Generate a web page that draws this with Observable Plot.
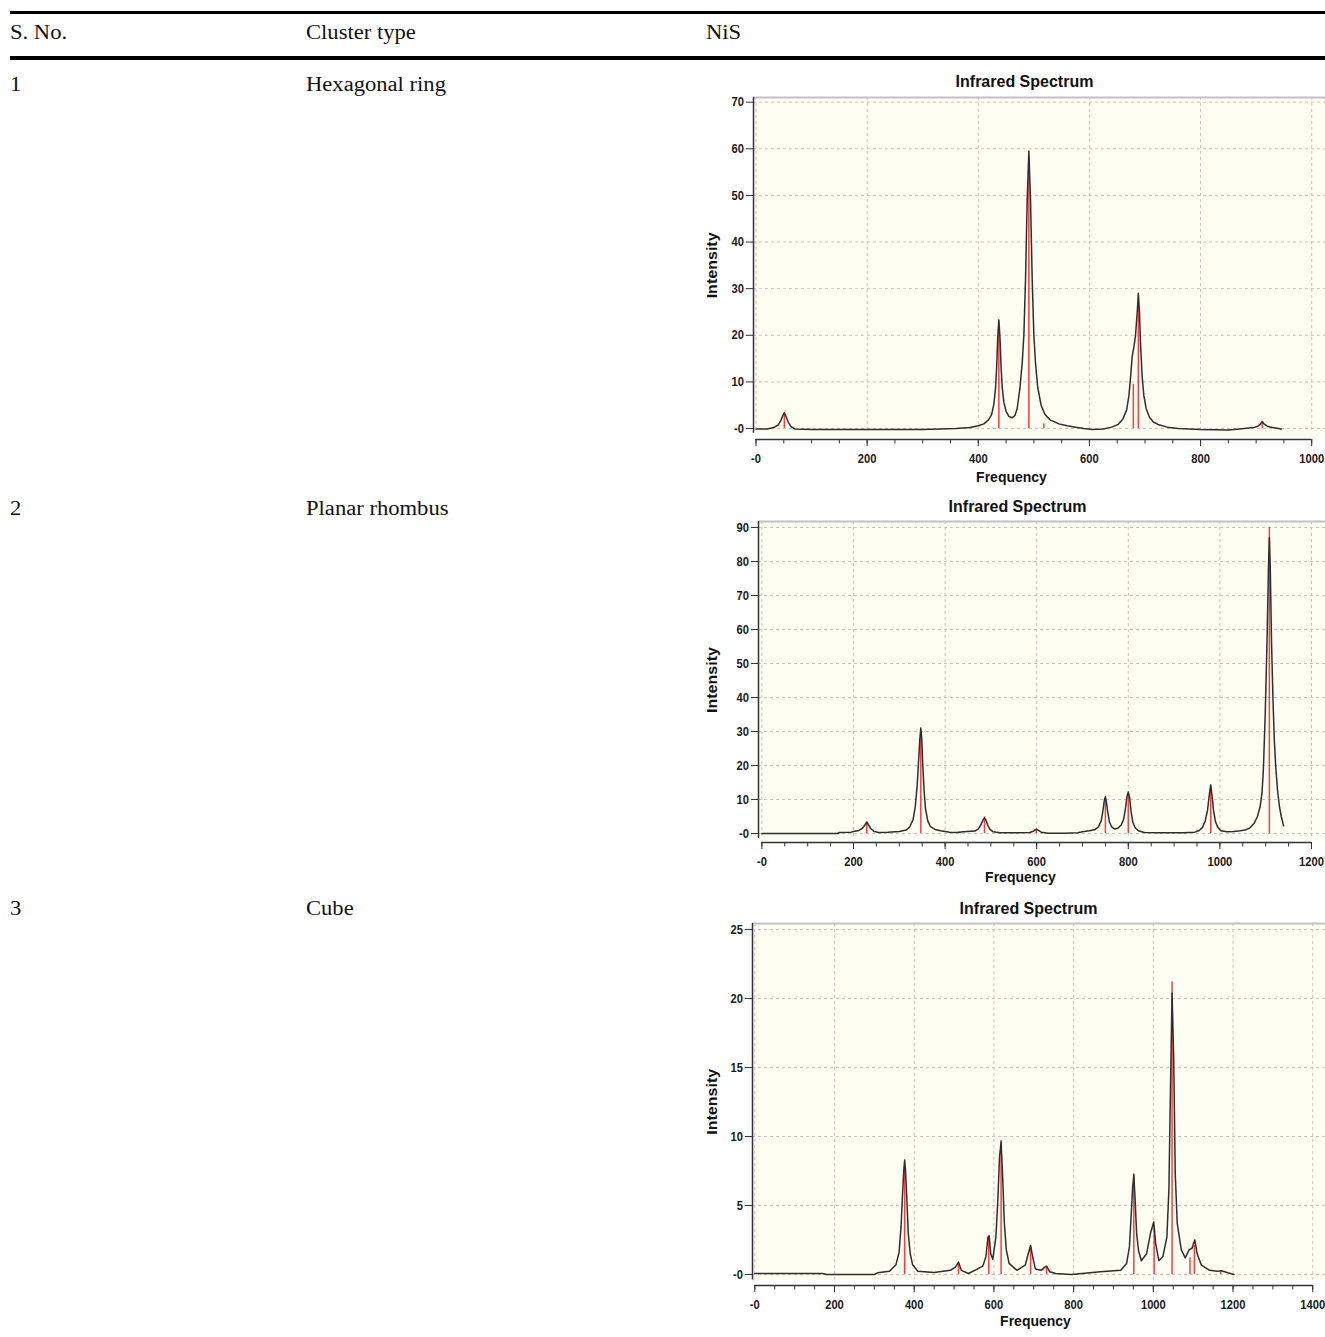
<!DOCTYPE html>
<html>
<head>
<meta charset="utf-8">
<script src="https://cdn.jsdelivr.net/npm/d3@7"></script>
<script src="https://cdn.jsdelivr.net/npm/@observablehq/plot@0.6"></script>
<style>
  html, body { margin: 0; padding: 0; background: #fff; }
  body { width: 1325px; height: 1337px; position: relative; overflow: hidden;
         font-family: "Liberation Serif", "Times New Roman", serif; }
  .rule { position: absolute; left: 10px; width: 1315px; background: #000; }
  .cell { position: absolute; font-size: 20px; line-height: 20px; white-space: nowrap;
          transform-origin: 0 50%; transform: scaleX(1.13); color: #111; }
  .chart { position: absolute; left: 695px; }
  .chart svg { overflow: visible; }
</style>
</head>
<body>
<script>
// ---------- table text ----------
const headers = ["S. No.", "Cluster type", "NiS"];
const serials = ["1", "2", "3"];
const clusterTypes = ["Hexagonal ring", "Planar rhombus", "Cube"];

// ---------- chart 1 : Hexagonal ring ----------
const hexSticks = [[51, 3.2], [437, 21], [491, 56], [518, 1], [679, 9.5], [688, 27], [911, 1.2]];
const hexCurve = [[0,-0.1],[20,-0.1],[32,0.2],[40,0.8],[45,1.8],[49,3],[51,3.4],[54,2.6],[58,1.4],[63,0.4],[70,-0.1],
  [100,-0.2],[200,-0.2],[300,-0.2],[360,0],[385,0.2],[400,0.6],[410,1],[418,1.8],[424,3],[428,5.2],[431,8.6],[433,13],
  [435,19.5],[437,23.3],[439,19.5],[441,13.2],[443,9],[446,5.6],[450,3.7],[455,2.6],[461,2.3],[466,2.8],[470,4.3],
  [475,8.7],[479,14],[482,20],[485,32],[488,49],[491,59.5],[494,49],[497,32],[500,20],[503,14],[507,8.8],[513,5],
  [520,3],[530,1.8],[545,1],[560,0.6],[575,0.3],[590,0],[605,-0.2],[625,-0.1],[640,0.3],[652,0.9],[660,2],[667,4],
  [671,7],[674,11],[677,15.5],[680,17.5],[683,20],[686,25],[688,29],[690,25],[692,18],[695,11],[698,7],[702,4.3],
  [708,2.4],[715,1.4],[725,0.8],[740,0.3],[760,0],[800,-0.2],[850,-0.3],[870,-0.1],[895,0.2],[903,0.5],[908,1],
  [911,1.5],[914,1],[920,0.5],[930,0.2],[945,-0.1]];
const hexXTicks = [0, 200, 400, 600, 800, 1000];
const hexYTicks = [0, 10, 20, 30, 40, 50, 60, 70];

// ---------- chart 2 : Planar rhombus ----------
const rhoSticks = [[229, 2.9], [347, 28.5], [486, 4.9], [599, 1], [750, 10], [800, 11.5], [980, 13.5], [1108, 90]];
const rhoCurve = [[0,0],[100,0],[165,0],[170,0.3],[195,0.4],[200,0.6],[212,0.9],[220,1.6],[225,2.5],[229,3.4],[233,2.5],
  [238,1.4],[245,0.6],[255,0.3],[275,0.4],[300,0.6],[315,1],[323,2],[330,4],[335,8],[339,14],[342,21],[345,28],[347,31],
  [349,28],[351,21],[354,13],[357,7.5],[362,3.8],[368,2],[378,1.2],[390,0.8],[410,0.4],[425,0.3],[440,0.5],[465,0.7],
  [472,1.3],[478,2.5],[483,4],[486,4.6],[489,4],[493,2.5],[498,1.2],[505,0.5],[520,0.2],[560,0.2],[585,0.3],[593,0.7],
  [599,1.3],[604,0.9],[610,0.4],[625,0.1],[660,0.1],[690,0.2],[700,0.5],[715,0.8],[728,1.2],[735,2],[741,3.8],[745,7],
  [748,10],[750,10.8],[752,9.5],[755,6.5],[759,3.3],[764,1.9],[771,1.3],[778,1.6],[785,2.6],[790,4.2],[794,7.5],[797,10.8],
  [800,12.2],[803,10.5],[806,6.5],[810,3.3],[815,1.7],[822,0.8],[835,0.3],[870,0.2],[920,0.2],[945,0.4],[955,0.9],[962,1.8],
  [968,3.7],[973,6.8],[977,11.5],[980,14.3],[983,11],[986,7],[990,3.7],[995,1.9],[1002,0.8],[1015,0.5],[1030,0.6],
  [1040,0.7],[1055,1],[1065,1.6],[1075,3],[1082,5],[1088,8],[1092,12],[1095,19],[1099,35],[1103,57],[1106,78],
  [1108,87],[1110,78],[1113,55],[1116,39],[1119,27],[1122,19.5],[1126,12.5],[1130,8],[1134,5],[1139,2.3]];
const rhoXTicks = [0, 200, 400, 600, 800, 1000, 1200];
const rhoYTicks = [0, 10, 20, 30, 40, 50, 60, 70, 80, 90];

// ---------- chart 3 : Cube ----------
const cubeSticks = [[376, 7.8], [511, 0.8], [587, 2.6], [618, 9.7], [692, 2], [732, 0.6], [951, 7.3], [1002, 3.5],
  [1047, 21.2], [1092, 1.2], [1103, 2.1], [1169, 0.2]];
const cubeCurve = [[0,0.07],[170,0.07],[180,0],[300,0],[308,0.12],[338,0.24],[354,0.7],[362,1.6],[367,3.5],[371,6],
  [374,7.6],[376,8.3],[378,7.6],[381,5.8],[385,3],[390,1.5],[396,0.7],[409,0.24],[450,0.15],[491,0.3],[504,0.55],
  [511,0.9],[518,0.3],[536,0.07],[552,0.3],[572,0.6],[580,1.3],[585,2.7],[588,2.8],[592,1.5],[597,1.1],[605,2.7],
  [610,5.5],[614,8.5],[618,9.6],[622,7],[626,3.8],[631,1.8],[638,0.8],[658,0.3],[679,0.7],[686,1.5],[692,2.1],[697,1.3],
  [704,0.4],[719,0.3],[728,0.55],[732,0.6],[740,0.2],[755,0.07],[795,0],[867,0.2],[918,0.3],[933,0.8],[940,2],[945,4.6],
  [948,6.3],[951,7.2],[954,5.6],[958,3],[963,1.7],[970,1],[983,1.5],[993,3],[1001,3.8],[1006,2.2],[1014,1],[1024,1.3],
  [1034,2.7],[1039,6.1],[1043,13.4],[1047,20.4],[1051,15.8],[1055,7.3],[1060,3.7],[1070,1.8],[1080,1.2],[1090,1.8],
  [1097,1.9],[1104,2.5],[1110,1.5],[1120,0.7],[1141,0.3],[1161,0.24],[1171,0.27],[1187,0.12],[1202,0]];
const cubeXTicks = [0, 200, 400, 600, 800, 1000, 1200, 1400];
const cubeYTicks = [0, 5, 10, 15, 20, 25];

const chartTitle = "Infrared Spectrum";
const xLabel = "Frequency";
const yLabel = "Intensity";

// ---------- layout ----------
const colX = [10, 306, 706];
const headerBaseline = 39;
const rowBaselines = [90.7, 514.6, 914.6];

function addDiv(cls, styles, text) {
  const d = document.createElement("div");
  d.className = cls;
  Object.assign(d.style, styles);
  if (text != null) d.textContent = text;
  document.body.appendChild(d);
  return d;
}
addDiv("rule", {top: "11px", height: "2.5px"});
addDiv("rule", {top: "56px", height: "3.5px"});
headers.forEach((h, i) => addDiv("cell", {left: colX[i] + "px", top: (headerBaseline - 16.75) + "px"}, h));
serials.forEach((s, i) => {
  addDiv("cell", {left: colX[0] + "px", top: (rowBaselines[i] - 16.75) + "px"}, s);
  addDiv("cell", {left: colX[1] + "px", top: (rowBaselines[i] - 16.75) + "px"}, clusterTypes[i]);
});

const tickFmt = d => d === 0 ? "-0" : String(d);
const sans = '"Liberation Sans", Arial, sans-serif';

function spectrum(c) {
  const minor = d3.range(0, d3.max(c.xTicks) + 1, 50);
  const axisColor = "#333";
  return Plot.plot({
    width: 630, height: c.height,
    marginLeft: c.marginLeft, marginRight: 0, marginTop: c.marginTop, marginBottom: c.marginBottom,
    x: {domain: c.xDomain}, y: {domain: c.yDomain},
    style: {fontFamily: sans, fontSize: "13px", fontWeight: "bold", color: "#1a1a1a",
            background: "transparent", overflow: "visible"},
    marks: [
      Plot.frame({fill: "#fefef3", stroke: "none"}),
      Plot.gridX(c.xTicks, {stroke: "#c4c4c4", strokeOpacity: 1, strokeDasharray: "3,3"}),
      Plot.gridY(c.yTicks, {stroke: "#c4c4c4", strokeOpacity: 1, strokeDasharray: "3,3"}),
      Plot.ruleY([c.yDomain[1]], {stroke: "#c2c2c2", strokeWidth: 2}),
      Plot.ruleX([c.xDomain[0]], {stroke: axisColor, strokeWidth: 1.5}),
      Plot.axisY(c.yTicks, {tickSize: 7, tickPadding: 2.5, tickFormat: tickFmt, stroke: axisColor, label: null}),
      Plot.ruleY([c.yDomain[0]], {x1: d3.min(c.xTicks), x2: d3.max(c.xTicks), dy: c.axisDy, stroke: axisColor, strokeWidth: 1.5}),
      Plot.axisX(minor, {tickSize: 4.5, fill: "none", dy: c.axisDy, stroke: axisColor, label: null}),
      Plot.axisX(c.xTicks, {tickSize: 7, tickPadding: 7, tickFormat: tickFmt, dy: c.axisDy, stroke: axisColor, label: null}),
      Plot.ruleX(c.sticks, {x: d => d[0], y1: 0, y2: d => d[1], stroke: "#ff3b3b", strokeWidth: 1.5}),
      Plot.line(c.curve, {x: d => d[0], y: d => d[1], stroke: "#2e2e2e", strokeWidth: 1.5}),
      Plot.text([chartTitle], {text: d => d, frameAnchor: "top", lineAnchor: "middle", dx: c.titleDx, dy: c.titleDy,
        fontFamily: sans, fontWeight: "bold", fontSize: 16, fill: "#111"}),
      Plot.text([xLabel], {text: d => d, frameAnchor: "bottom", lineAnchor: "middle", dx: c.freqDx, dy: c.freqDy,
        fontFamily: sans, fontWeight: "bold", fontSize: 14, fill: "#111"}),
      Plot.text([yLabel], {text: d => d, frameAnchor: "left", lineAnchor: "middle", textAnchor: "middle",
        rotate: -90, dx: c.intDx, dy: c.intDy || 0,
        fontFamily: sans, fontWeight: "bold", fontSize: 14, fill: "#111"})
    ]
  });
}

const charts = [
  {top: 62, height: 428, marginLeft: 58, marginTop: 35, marginBottom: 57.3,
   xDomain: [-4.5, 1024.8], yDomain: [-1.0, 71.0], axisDy: 6.3,
   titleDx: -15, titleDy: -16, freqDx: -28, freqDy: 44, intDx: -41,
   sticks: hexSticks, curve: hexCurve, xTicks: hexXTicks, yTicks: hexYTicks},
  {top: 490, height: 400, marginLeft: 63, marginTop: 31, marginBottom: 52,
   xDomain: [-7.4, 1230.6], yDomain: [-1.47, 91.76], axisDy: 4,
   titleDx: -24.5, titleDy: -15, freqDx: -21.5, freqDy: 39, intDx: -46,
   sticks: rhoSticks, curve: rhoCurve, xTicks: rhoXTicks, yTicks: rhoYTicks},
  {top: 890, height: 447, marginLeft: 57, marginTop: 33, marginBottom: 57.5,
   xDomain: [-5.8, 1432], yDomain: [-0.4, 25.43], axisDy: 5.5,
   titleDx: -10.5, titleDy: -15, freqDx: -3.5, freqDy: 41.5, intDx: -40,
   sticks: cubeSticks, curve: cubeCurve, xTicks: cubeXTicks, yTicks: cubeYTicks}
];

charts.forEach(c => {
  const wrap = addDiv("chart", {top: c.top + "px"});
  const svg = spectrum(c);
  wrap.appendChild(svg);
  // condensed tick labels, as in the reference's narrow axis font
  svg.querySelectorAll('g[aria-label="x-axis tick label"] text, g[aria-label="y-axis tick label"] text').forEach(t => {
    const w = t.getComputedTextLength();
    if (w > 0) {
      t.setAttribute("textLength", (w * 0.86).toFixed(2));
      t.setAttribute("lengthAdjust", "spacingAndGlyphs");
    }
  });
  // the reference's axis title is drawn stretched along its length
  svg.querySelectorAll("text").forEach(t => {
    if (t.textContent === yLabel) {
      t.setAttribute("textLength", "66");
      t.setAttribute("lengthAdjust", "spacingAndGlyphs");
    }
  });
});
</script>
</body>
</html>
